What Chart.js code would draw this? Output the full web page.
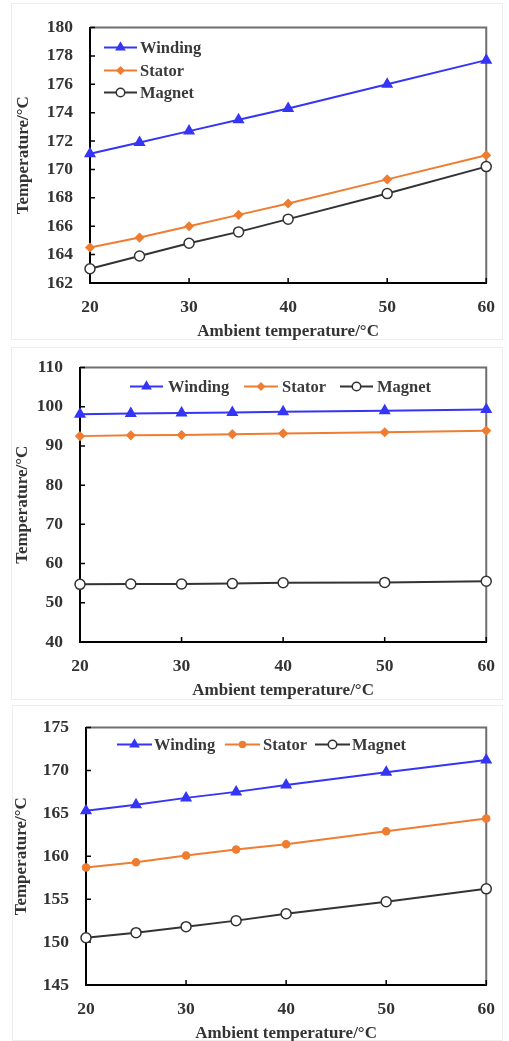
<!DOCTYPE html>
<html><head><meta charset="utf-8">
<script src="https://cdn.jsdelivr.net/npm/chart.js@4.4.1/dist/chart.umd.min.js"></script>
<style>
html,body{margin:0;padding:0;background:#fff;}
.wrap{position:absolute;left:0;width:509px;}
.frame{position:absolute;border:1px solid #ededed;box-sizing:border-box;}
canvas{display:block;}
</style></head><body>
<div class="frame" style="left:11px;top:3px;width:492px;height:337px"></div>
<div class="frame" style="left:11px;top:347px;width:492px;height:353px"></div>
<div class="frame" style="left:12px;top:705px;width:491px;height:336px"></div>
<div class="wrap" style="top:0;height:340px"><canvas id="c1" width="509" height="340"></canvas></div>
<div class="wrap" style="top:340px;height:360px"><canvas id="c2" width="509" height="360"></canvas></div>
<div class="wrap" style="top:700px;height:341px"><canvas id="c3" width="509" height="341"></canvas></div>
<script>
// ---- data ----
const ambient = [20, 25, 30, 35, 40, 50, 60];
const xTickLabels = [20, 30, 40, 50, 60];
const seriesNames = ['Winding', 'Stator', 'Magnet'];
const xTitle = 'Ambient temperature/°C';
const yTitle = 'Temperature/°C';

// chart 1
const windingA = [171.1, 171.9, 172.7, 173.5, 174.3, 176.0, 177.7];
const statorA  = [164.5, 165.2, 166.0, 166.8, 167.6, 169.3, 171.0];
const magnetA  = [163.0, 163.9, 164.8, 165.6, 166.5, 168.3, 170.2];
const yTicksA  = [162, 164, 166, 168, 170, 172, 174, 176, 178, 180];

// chart 2
const windingB = [98.1, 98.3, 98.4, 98.5, 98.7, 99.0, 99.3];
const statorB  = [92.5, 92.7, 92.8, 93.0, 93.2, 93.5, 93.9];
const magnetB  = [54.7, 54.8, 54.8, 54.9, 55.1, 55.2, 55.5];
const yTicksB  = [40, 50, 60, 70, 80, 90, 100, 110];

// chart 3
const windingC = [165.3, 166.0, 166.8, 167.5, 168.3, 169.8, 171.2];
const statorC  = [158.7, 159.3, 160.1, 160.8, 161.4, 162.9, 164.4];
const magnetC  = [150.5, 151.1, 151.8, 152.5, 153.3, 154.7, 156.2];
const yTicksC  = [145, 150, 155, 160, 165, 170, 175];

// ---- styles ----
const FONT = "'Liberation Serif','Times New Roman',serif";
const TXT = '#333';
const colors = ['#3535f5', '#ee7d31', '#333333'];

function pts(vals) { return ambient.map((x, i) => ({ x: x, y: vals[i] })); }

function drawMarker(ctx, style, r, x, y, fill, stroke) {
  ctx.save();
  ctx.fillStyle = fill; ctx.strokeStyle = stroke; ctx.lineWidth = 1.5;
  if (Chart.helpers && Chart.helpers.drawPoint) {
    Chart.helpers.drawPoint(ctx, { pointStyle: style, radius: r, borderWidth: 1.5, rotation: 0 }, x, y);
  }
  ctx.restore();
}

const frameAndTicks = {
  id: 'frameAndTicks',
  beforeDatasetsDraw(chart) {
    const { ctx, chartArea: a } = chart;
    ctx.save();
    ctx.strokeStyle = '#6f6f6f';
    ctx.lineWidth = 2;
    ctx.beginPath();
    ctx.moveTo(a.left, a.top); ctx.lineTo(a.right, a.top); ctx.lineTo(a.right, a.bottom);
    ctx.stroke();
    ctx.strokeStyle = '#000';
    ctx.lineWidth = 1.5;
    const ys = chart.scales.y, xs = chart.scales.x;
    ctx.beginPath();
    ys.ticks.forEach(t => {
      const p = ys.getPixelForValue(t.value);
      ctx.moveTo(a.left, p); ctx.lineTo(a.left + 5, p);
    });
    xs.ticks.forEach(t => {
      const p = xs.getPixelForValue(t.value);
      ctx.moveTo(p, a.bottom); ctx.lineTo(p, a.bottom - 5);
    });
    ctx.stroke();
    ctx.restore();
  }
};

const customLegend = {
  id: 'customLegend',
  afterDraw(chart, args, opts) {
    const { ctx, chartArea: a } = chart;
    const items = opts.items || [];
    ctx.save();
    chart.data.datasets.forEach((ds, i) => {
      const it = items[i];
      if (!it) return;
      const x0 = a.left + it.lx, y0 = a.top + it.ly;
      ctx.strokeStyle = ds.borderColor;
      ctx.lineWidth = 2;
      ctx.beginPath(); ctx.moveTo(x0, y0); ctx.lineTo(x0 + it.len, y0); ctx.stroke();
      drawMarker(ctx, ds.pointStyle, ds.pointRadius * 0.85, x0 + it.len / 2, y0, ds.pointBackgroundColor, ds.pointBorderColor);
      ctx.fillStyle = '#3a3a3a';
      ctx.font = 'bold 16.5px ' + FONT;
      ctx.textBaseline = 'middle';
      ctx.textAlign = 'left';
      ctx.fillText(ds.label, a.left + it.tx, y0 + 1);
    });
    ctx.restore();
  }
};

function makeChart(id, H, area, vals, yTicks, statorStyle, legendItems) {
  const ds = [
    { label: seriesNames[0], data: pts(vals[0]), borderColor: colors[0], pointStyle: 'triangle', pointRadius: 5.5,
      pointBackgroundColor: colors[0], pointBorderColor: colors[0] },
    { label: seriesNames[1], data: pts(vals[1]), borderColor: colors[1], pointStyle: statorStyle, pointRadius: statorStyle === 'circle' ? 3.5 : 4,
      pointBackgroundColor: colors[1], pointBorderColor: colors[1] },
    { label: seriesNames[2], data: pts(vals[2]), borderColor: colors[2], pointStyle: 'circle', pointRadius: 5,
      pointBackgroundColor: '#ffffff', pointBorderColor: colors[2] }
  ].map(d => Object.assign(d, { borderWidth: 2, pointBorderWidth: 1.5, tension: 0, clip: false, fill: false }));

  return new Chart(document.getElementById(id), {
    type: 'line',
    data: { datasets: ds },
    options: {
      responsive: false, animation: false, devicePixelRatio: 1,
      layout: { padding: { top: area.top, right: 509 - area.right, bottom: 0, left: 0 } },
      plugins: { legend: { display: false }, tooltip: { enabled: false }, customLegend: { items: legendItems } },
      scales: {
        x: {
          type: 'linear', min: xTickLabels[0], max: xTickLabels[xTickLabels.length - 1],
          afterBuildTicks: s => { s.ticks = xTickLabels.map(v => ({ value: v })); },
          afterFit: s => { s.height = H - area.bottom; },
          grid: { display: true, drawOnChartArea: false, drawTicks: false },
          border: { display: true, color: '#000', width: 2 },
          ticks: { padding: area.xpad, color: TXT, font: { family: FONT, size: 17.5, weight: 'bold' } },
          title: { display: true, text: xTitle, color: TXT, font: { family: FONT, size: 17, weight: 'bold', lineHeight: 1 }, padding: { top: 0, bottom: area.tpad } }
        },
        y: {
          min: yTicks[0], max: yTicks[yTicks.length - 1],
          afterBuildTicks: s => { s.ticks = yTicks.map(v => ({ value: v })); },
          afterFit: s => { s.width = area.left; },
          grid: { display: true, drawOnChartArea: false, drawTicks: false },
          border: { display: true, color: '#000', width: 2 },
          ticks: { padding: 17, color: TXT, font: { family: FONT, size: 17.5, weight: 'bold' } },
          title: { display: true, text: yTitle, color: TXT, font: { family: FONT, size: 17, weight: 'bold', lineHeight: 1 }, padding: { top: area.ytpad, bottom: 0 } }
        }
      }
    },
    plugins: [frameAndTicks, customLegend]
  });
}

makeChart('c1', 340, { left: 90, right: 492, top: 15, bottom: 283, xpad: 14, tpad: 0, ytpad: 15 },
  [windingA, statorA, magnetA], yTicksA, 'rectRot',
  [{ lx: 14, ly: 20, len: 33, tx: 50 }, { lx: 14, ly: 43, len: 33, tx: 50 }, { lx: 14, ly: 65, len: 33, tx: 50 }]);

makeChart('c2', 360, { left: 80, right: 489, top: 18, bottom: 302, xpad: 14, tpad: 1, ytpad: 14 },
  [windingB, statorB, magnetB], yTicksB, 'rectRot',
  [{ lx: 50, ly: 19, len: 33, tx: 88 }, { lx: 164, ly: 19, len: 34, tx: 202 }, { lx: 260, ly: 19, len: 33, tx: 297 }]);

makeChart('c3', 341, { left: 86, right: 494, top: 18, bottom: 285, xpad: 14, tpad: -1, ytpad: 13 },
  [windingC, statorC, magnetC], yTicksC, 'circle',
  [{ lx: 31, ly: 17, len: 35, tx: 68 }, { lx: 139, ly: 17, len: 35, tx: 177 }, { lx: 229, ly: 17, len: 35, tx: 266 }]);
</script>
</body></html>
